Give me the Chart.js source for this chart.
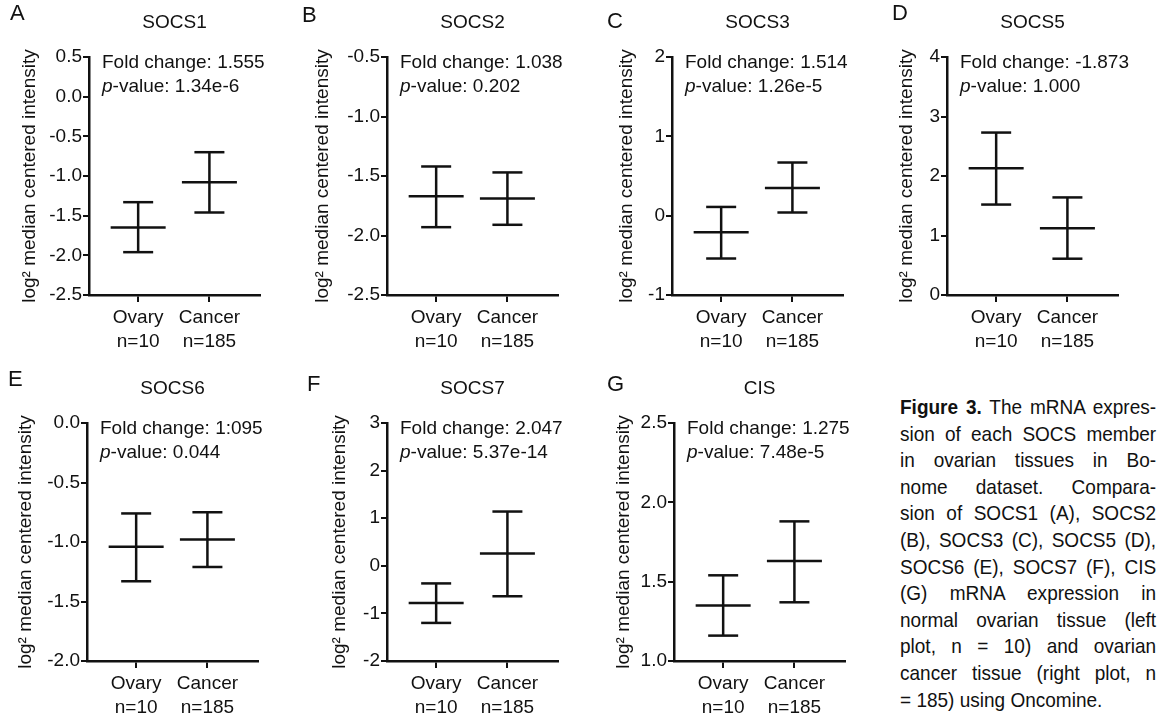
<!DOCTYPE html>
<html>
<head>
<meta charset="utf-8">
<script src="https://cdn.jsdelivr.net/npm/chart.js@4.4.1/dist/chart.umd.min.js"></script>
<style>
  body { margin:0; background:#fff; width:1163px; height:721px; overflow:hidden; position:relative; font-family:"Liberation Sans", Arial, sans-serif; }
  canvas { position:absolute; }
  #caption { position:absolute; left:900px; top:394px; width:283px; transform:scaleX(0.905); transform-origin:0 0;
             font-family:"Liberation Sans", Arial, sans-serif; font-size:21px; line-height:26.6px; color:#111; }
  #caption div { white-space:nowrap; text-align:justify; text-align-last:justify; }
  #caption div.last { text-align-last:left; }
</style>
</head>
<body>
<div id="caption">
  <div><b>Figure 3.</b> The mRNA expres-</div>
  <div>sion of each SOCS member</div>
  <div>in ovarian tissues in Bo-</div>
  <div>nome dataset. Compara-</div>
  <div>sion of SOCS1 (A), SOCS2</div>
  <div>(B), SOCS3 (C), SOCS5 (D),</div>
  <div>SOCS6 (E), SOCS7 (F), CIS</div>
  <div>(G) mRNA expression in</div>
  <div>normal ovarian tissue (left</div>
  <div>plot, n = 10) and ovarian</div>
  <div>cancer tissue (right plot, n</div>
  <div class="last">= 185) using Oncomine.</div>
</div>
<script>
// data
const genes = ['SOCS1','SOCS2','SOCS3','SOCS5','SOCS6','SOCS7','CIS'];
const letters = ['A','B','C','D','E','F','G'];
const groups = ['Ovary','Cancer'];
const groupN = ['n=10','n=185'];
const foldChange = ['1.555','1.038','1.514','-1.873','1:095','2.047','1.275'];
const pValue = ['1.34e-6','0.202','1.26e-5','1.000','0.044','5.37e-14','7.48e-5'];

const ovaryMean  = [-1.65,-1.67,-0.21, 2.13,-1.04,-0.78, 1.35];
const ovaryUpper = [-1.33,-1.42, 0.11, 2.73,-0.76,-0.37, 1.54];
const ovaryLower = [-1.96,-1.93,-0.54, 1.52,-1.33,-1.20, 1.16];
const cancerMean  = [-1.08,-1.69, 0.35, 1.12,-0.98, 0.26, 1.63];
const cancerUpper = [-0.70,-1.47, 0.67, 1.64,-0.75, 1.14, 1.88];
const cancerLower = [-1.46,-1.91, 0.04, 0.61,-1.21,-0.64, 1.37];

const yMin  = [-2.5,-2.5,-1, 0,-2,-2, 1];
const yMax  = [ 0.5,-0.5, 2, 4, 0, 3, 2.5];
const yStep = [ 0.5, 0.5, 1, 1, 0.5, 1, 0.5];

// layout (page px)
const axisX = [89,387,672,947,87,387,674];
const rowTop = [0,0,0,0,366,366,366];
const labelPad = [18.6,13.6,32.6,37.6,16.6,30.6,27.6];
const letterPos = [[10,14],[4,16],[24,22],[34,14],[10,14],[9,19],[22,19]];

const W = 290, H = 360;
const FONT = '"Liberation Sans", Arial, sans-serif';
Chart.defaults.font.family = FONT;
Chart.defaults.color = '#111';

const panelText = {
  id: 'panelText',
  afterDraw(chart, args, o) {
    const ctx = chart.ctx, a = chart.chartArea;
    ctx.save();
    ctx.fillStyle = '#111';
    ctx.textBaseline = 'middle';
    ctx.font = '22px ' + FONT;
    ctx.fillText(o.letter, o.lx, o.ly);
    ctx.font = '19px ' + FONT;
    const x = a.left + 13;
    ctx.fillText('Fold change: ' + o.fc, x, a.top + 6);
    ctx.font = 'italic 19px ' + FONT;
    ctx.fillText('p', x, a.top + 30);
    const w = ctx.measureText('p').width;
    ctx.font = '19px ' + FONT;
    ctx.fillText('-value: ' + o.pv, x + w, a.top + 30);
    ctx.restore();
  }
};

genes.forEach((g, i) => {
  const cv = document.createElement('canvas');
  cv.width = W; cv.height = H;
  cv.style.left = (axisX[i] - 89) + 'px';
  cv.style.top = rowTop[i] + 'px';
  document.body.appendChild(cv);

  const mean = [ovaryMean[i], cancerMean[i]];
  const hi = [ovaryUpper[i], cancerUpper[i]];
  const lo = [ovaryLower[i], cancerLower[i]];
  const dec = yStep[i] < 1 ? 1 : 0;

  new Chart(cv, {
    type: 'scatter',
    data: {
      datasets: [
        { // whiskers
          data: [{x:1,y:lo[0]},{x:1,y:hi[0]},{x:1.5,y:null},{x:2,y:lo[1]},{x:2,y:hi[1]}],
          showLine: true, spanGaps: false, borderColor:'#111', borderWidth:2.5, pointRadius:0
        },
        { // caps
          data: [{x:1,y:hi[0]},{x:1,y:lo[0]},{x:2,y:hi[1]},{x:2,y:lo[1]}],
          pointStyle:'line', pointRadius:15, borderColor:'#111', borderWidth:2.5
        },
        { // means
          data: [{x:1,y:mean[0]},{x:2,y:mean[1]}],
          pointStyle:'line', pointRadius:27.5, borderColor:'#111', borderWidth:2.5
        }
      ]
    },
    options: {
      responsive: false,
      animation: false,
      devicePixelRatio: 1,
      layout: { padding: { left:0, top:0, right: W - 89 - 192, bottom:0 } },
      plugins: {
        legend: { display:false },
        tooltip: { enabled:false },
        title: {
          display: true, text: g, fullSize: false,
          font: { size:19, weight:'normal', lineHeight:1.2 },
          padding: { top:11, bottom:23.2 }, color:'#111'
        },
        panelText: { letter: letters[i], lx: letterPos[i][0], ly: letterPos[i][1], fc: foldChange[i], pv: pValue[i] }
      },
      scales: {
        x: {
          type:'linear', min:0.31, max:2.71,
          afterBuildTicks: s => { s.ticks = [{value:1},{value:2}]; },
          afterFit: s => { s.height = H - 295; },
          ticks: {
            autoSkip:false, maxRotation:0, padding:3,
            font:{ size:19, lineHeight:1.3 },
            callback: v => [groups[v-1], groupN[v-1]]
          },
          grid: { drawOnChartArea:false, drawTicks:true, tickLength:7, color:'#111', lineWidth:2 },
          border: { display:true, color:'#111', width:2.5 }
        },
        y: {
          min: yMin[i], max: yMax[i],
          afterFit: s => { s.width = 89; },
          ticks: { stepSize: yStep[i], padding:1, font:{ size:19 }, callback: v => Number(v).toFixed(dec) },
          grid: { drawOnChartArea:false, drawTicks:true, tickLength:6, color:'#111', lineWidth:2 },
          border: { display:true, color:'#111', width:2.5 },
          title: {
            display:true, text:'log² median centered intensity',
            font:{ size:19, lineHeight:1.2 }, padding:{ top: labelPad[i], bottom:0 }, color:'#111'
          }
        }
      }
    },
    plugins: [panelText]
  });
});
</script>
</body>
</html>
